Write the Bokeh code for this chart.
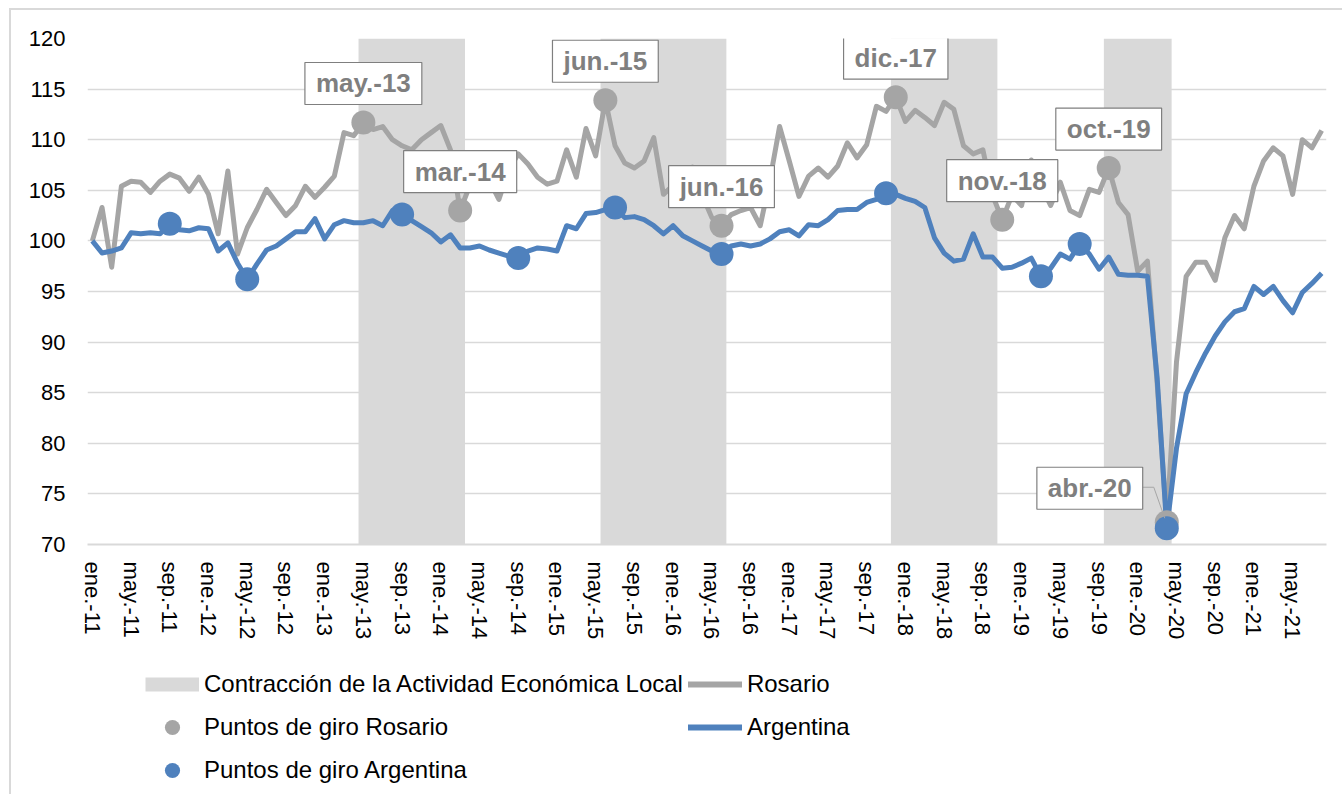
from bokeh.plotting import figure
from bokeh.layouts import column
from bokeh.models import Range1d, FixedTicker, Legend, LegendItem, Label, InlineStyleSheet
from bokeh.embed import file_html
from bokeh.resources import INLINE

# ---------------- data ----------------
MESES_ABR = ["ene.", "feb.", "mar.", "abr.", "may.", "jun.",
             "jul.", "ago.", "sep.", "oct.", "nov.", "dic."]
meses = [f"{m}-{y:02d}" for y in range(11, 22) for m in MESES_ABR][:128]

rosario = [
    100.0, 103.3, 97.4, 105.4, 105.9, 105.8, 104.8, 105.9, 106.6, 106.2, 104.9, 106.3,
    104.6, 100.7, 106.9, 98.7, 101.3, 103.1, 105.1, 103.8, 102.5, 103.5, 105.4, 104.3,
    105.3, 106.4, 110.7, 110.4, 111.7, 111.0, 111.3, 110.0, 109.4, 109.0, 110.0, 110.7,
    111.4, 109.0, 103.0, 105.5, 107.0, 106.0, 104.1, 107.0, 108.6, 107.6, 106.3, 105.6,
    105.9, 109.0, 106.3, 111.1, 108.4, 113.9, 109.4, 107.7, 107.2, 107.9, 110.2, 104.6,
    105.5, 106.5, 107.3, 104.5, 102.3, 101.5, 102.6, 103.0, 103.3, 101.5, 106.0, 111.3,
    107.9, 104.4, 106.4, 107.2, 106.3, 107.4, 109.7, 108.2, 109.5, 113.3, 112.8, 114.2,
    111.8, 112.9, 112.2, 111.4, 113.7, 113.0, 109.4, 108.6, 109.0, 104.5, 102.1, 104.5,
    103.5, 108.0, 105.5, 103.5, 105.8, 103.0, 102.5, 105.1, 104.8, 107.2, 103.8, 102.6,
    97.0, 98.0, 86.0, 72.2, 88.0, 96.5, 97.9, 97.9, 96.1, 100.3, 102.5, 101.2,
    105.4, 107.9, 109.2, 108.4, 104.6, 110.0, 109.2, 110.9,
]

argentina = [
    100.0, 98.8, 99.0, 99.3, 100.8, 100.7, 100.8, 100.7, 101.7, 101.1, 101.0, 101.3,
    101.2, 99.0, 99.8, 97.8, 96.2, 97.7, 99.1, 99.5, 100.2, 100.9, 100.9, 102.2,
    100.2, 101.6, 102.0, 101.8, 101.8, 102.0, 101.5, 103.0, 102.6, 102.0, 101.4, 100.8,
    99.9, 100.6, 99.3, 99.3, 99.5, 99.1, 98.8, 98.5, 98.3, 99.0, 99.3, 99.2,
    99.0, 101.5, 101.2, 102.7, 102.8, 103.1, 103.3, 102.3, 102.4, 102.1, 101.5, 100.7,
    101.5, 100.5, 100.0, 99.5, 99.0, 98.7, 99.5, 99.7, 99.5, 99.7, 100.2, 100.9,
    101.1, 100.5, 101.6, 101.5, 102.1, 103.0, 103.1, 103.1, 103.8, 104.1, 104.7, 104.6,
    104.2, 103.9, 103.3, 100.3, 98.8, 98.0, 98.2, 100.7, 98.4, 98.4, 97.3, 97.4,
    97.8, 98.3, 96.5, 97.3, 98.7, 98.2, 99.7, 98.7, 97.2, 98.4, 96.7, 96.6,
    96.6, 96.5, 86.5, 71.6, 79.5, 84.9, 87.0, 88.9, 90.6, 92.0, 93.0, 93.3,
    95.5, 94.7, 95.5, 94.1, 92.9, 94.9, 95.8, 96.8,
]

contraccion_inicio = ["may.-13", "jun.-15", "dic.-17", "oct.-19"]
contraccion_fin = ["mar.-14", "jun.-16", "oct.-18", "abr.-20"]

giro_rosario = ["may.-13", "mar.-14", "jun.-15", "jun.-16",
                "dic.-17", "nov.-18", "oct.-19", "abr.-20"]
giro_argentina = ["sep.-11", "may.-12", "sep.-13", "sep.-14", "jul.-15",
                  "jun.-16", "nov.-17", "mar.-19", "jul.-19", "abr.-20"]

y_ticks = [70, 75, 80, 85, 90, 95, 100, 105, 110, 115, 120]

# ---------------- styling ----------------
FONT = "Liberation Sans"
GRIS = "#A5A5A5"
AZUL = "#4F81BD"
BANDA = "#D9D9D9"
GRID = "#D9D9D9"
TXT_LBL = "#7F7F7F"

x = list(range(len(meses)))
idx = {m: i for i, m in enumerate(meses)}

p = figure(width=1340, height=654,
           x_range=Range1d(-0.5, len(meses) - 0.5),
           y_range=Range1d(y_ticks[0], y_ticks[-1]),
           output_backend="svg", toolbar_location=None,
           min_border_left=87, min_border_right=14,
           min_border_top=38, min_border_bottom=110)
p.outline_line_color = None
p.background_fill_color = "white"
p.border_fill_color = "white"

# grid / axes
p.xgrid.visible = False
p.ygrid.ticker = FixedTicker(ticks=y_ticks)
p.ygrid.grid_line_color = GRID
p.ygrid.grid_line_width = 1.5

p.yaxis.ticker = FixedTicker(ticks=y_ticks)
p.yaxis.axis_line_color = None
p.yaxis.major_tick_line_color = None
p.yaxis.minor_tick_line_color = None
p.yaxis.major_tick_out = 0
p.yaxis.major_label_standoff = 22
p.yaxis.major_label_text_font = FONT
p.yaxis.major_label_text_font_size = "22px"
p.yaxis.major_label_text_color = "#000000"

xt = x[::4]
p.xaxis.ticker = FixedTicker(ticks=xt)
p.xaxis.major_label_overrides = {i: meses[i] for i in xt}
p.xaxis.major_label_orientation = "vertical"
p.xaxis.axis_line_color = GRID
p.xaxis.axis_line_width = 2
p.xaxis.major_tick_line_color = None
p.xaxis.minor_tick_line_color = None
p.xaxis.major_tick_out = 0
p.xaxis.major_label_standoff = 17
p.xaxis.major_label_text_font = FONT
p.xaxis.major_label_text_font_size = "22px"
p.xaxis.major_label_text_color = "#000000"

# contraction bands
left = [idx[m] - 0.5 for m in contraccion_inicio]
right = [idx[m] + 0.5 for m in contraccion_fin]
p.quad(left=left, right=right, bottom=y_ticks[0], top=y_ticks[-1],
       fill_color=BANDA, line_color=None)

# lines
p.line(x, rosario, line_color=GRIS, line_width=5, line_join="round")
p.line(x, argentina, line_color=AZUL, line_width=5, line_join="round")

# turning points
gr_x = [idx[m] for m in giro_rosario]
gr_y = [rosario[i] for i in gr_x]
ga_x = [idx[m] for m in giro_argentina]
ga_y = [argentina[i] for i in ga_x]
p.scatter(gr_x, gr_y, size=24, fill_color=GRIS, line_color=None)
p.scatter(ga_x, ga_y, size=24, fill_color=AZUL, line_color=None)

# leader line for abr.-20 label (px offsets converted to data units)
px_x = 1239 / len(meses)
px_y = 506 / (y_ticks[-1] - y_ticks[0])
ia = idx["abr.-20"]
lx = [ia - 26 / px_x, ia - 13 / px_x, ia - 2 / px_x]
ly = [rosario[ia] + 35 / px_y, rosario[ia] + 35 / px_y, rosario[ia] + 4 / px_y]
p.line(lx, ly, line_color="#A6A6A6", line_width=1)

# data labels for Rosario turning points
for m, xi, yi in zip(giro_rosario, gr_x, gr_y):
    dx, dy = (0, 39) if m != "abr.-20" else (-77, 34)
    p.add_layout(Label(x=xi, y=yi, x_offset=dx, y_offset=dy, text=m,
                       text_align="center", text_baseline="middle",
                       text_font=FONT, text_font_size="26px", text_font_style="bold",
                       text_color=TXT_LBL,
                       background_fill_color="white",
                       border_line_color=TXT_LBL, border_line_width=1.2,
                       padding=dict(x=11, y=6)))

# ---------------- legend (separate strip below the chart) ----------------
pl = figure(width=1340, height=138, x_range=Range1d(0, 1), y_range=Range1d(0, 1),
            x_axis_type=None, y_axis_type=None,
            output_backend="svg", toolbar_location=None,
            min_border_left=0, min_border_right=0, min_border_top=0, min_border_bottom=0)
pl.outline_line_color = None
pl.xgrid.visible = False
pl.ygrid.visible = False
pl.background_fill_color = "white"
pl.border_fill_color = "white"

# legend proxies: one point each, placed outside the visible range
OFF = [5]
lg_band = pl.line(OFF, OFF, line_color=BANDA, line_width=14, line_cap="butt")
lg_ros = pl.line(OFF, OFF, line_color=GRIS, line_width=6, line_cap="round")
lg_rpt = pl.scatter(OFF, OFF, fill_color=GRIS, line_color=None)
lg_arg = pl.line(OFF, OFF, line_color=AZUL, line_width=6, line_cap="round")
lg_apt = pl.scatter(OFF, OFF, fill_color=AZUL, line_color=None)

legend = Legend(items=[
    LegendItem(label="Contracción de la Actividad Económica Local", renderers=[lg_band]),
    LegendItem(label="Rosario", renderers=[lg_ros]),
    LegendItem(label="Puntos de giro Rosario", renderers=[lg_rpt]),
    LegendItem(label="Argentina", renderers=[lg_arg]),
    LegendItem(label="Puntos de giro Argentina", renderers=[lg_apt]),
], orientation="horizontal", ncols=2, location=(58, 3),
    glyph_width=54, glyph_height=38, spacing=5, label_standoff=5,
    padding=0, margin=0, border_line_color=None, background_fill_alpha=0,
    label_text_font=FONT, label_text_font_size="24px", label_text_color="#000000")
pl.add_layout(legend)

layout = column(p, pl, spacing=0)
layout.stylesheets = [InlineStyleSheet(css="""
:host { position: relative; }
:host::after {
  content: ""; position: absolute; left: 9px; top: 8px; width: 1400px; height: 900px;
  border-left: 2px solid #D9D9D9; border-top: 2px solid #D9D9D9;
  pointer-events: none;
}
""")]
open("out.html", "w").write(file_html(layout, INLINE))
